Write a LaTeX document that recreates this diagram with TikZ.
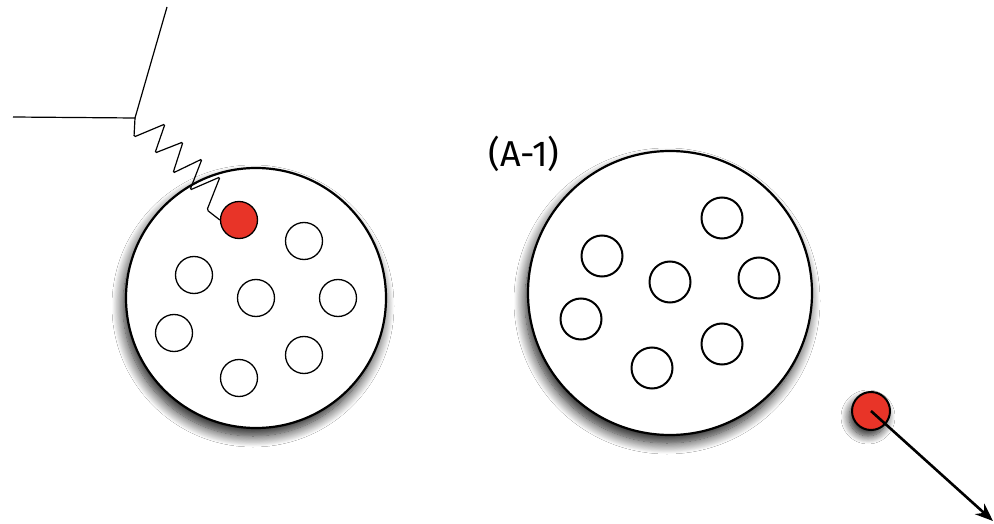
\documentclass[tikz,border=0pt]{standalone}
\usepackage{fontspec}
\setsansfont{Fira Sans}
\usetikzlibrary{shadows.blur,arrows.meta}
\definecolor{nucred}{RGB}{232,52,40}
\tikzset{
  big/.style={circle,draw=black,line width=2.2pt,fill=white,minimum size=#1,inner sep=0pt,
    blur shadow={shadow xshift=-3pt,shadow yshift=-8pt,shadow blur radius=11pt,shadow blur steps=14,shadow opacity=90}},
  small/.style={circle,draw=black,line width=#1,fill=white,minimum size=37pt,inner sep=0pt},
  smallr/.style={circle,draw=black,line width=2pt,fill=white,minimum size=41pt,inner sep=0pt},
  red/.style={circle,draw=black,line width=1.3pt,fill=nucred,minimum size=37pt,inner sep=0pt},
  thin/.style={draw=black,line width=1.2pt},
}
\begin{document}
\begin{tikzpicture}[x=1pt,y=-1pt]
\useasboundingbox[fill=white] (0,0) rectangle (994,524);
% left nucleus
\node[big=260pt] (n1) at (256,298) {};
\node[red] (p1) at (239,220) {};
\node[small=1.3pt] (a1) at (304,241) {};
\node[small=1.3pt] (a2) at (194,275) {};
\node[small=1.3pt] (a3) at (256,298) {};
\node[small=1.3pt] (a4) at (338,298) {};
\node[small=1.3pt] (a5) at (174,333) {};
\node[small=1.3pt] (a6) at (304,355) {};
\node[small=1.3pt] (a7) at (239,378) {};
% incoming line and spring
\coordinate (s) at (13,117);
\coordinate (v) at (135,118);
\coordinate (t) at (167,7);
\draw[thin] (s) -- (v) -- (t);
\draw[thin,rounded corners=1.5pt] (v) -- (134,137) -- (165,124) -- (155,153) -- (183,142)
  -- (173,173) -- (202,159) -- (190,190) -- (220,177) -- (207,210) -- (p1.west);
% right nucleus
\node[font=\sffamily\fontsize{36}{40}\selectfont] (lab) at (524,154) {(A-1)};
\node[big=284pt] (n2) at (670,293) {};
\node[smallr] (b1) at (722,218) {};
\node[smallr] (b2) at (602,256) {};
\node[smallr] (b3) at (670,282) {};
\node[smallr] (b4) at (759,278) {};
\node[smallr] (b5) at (581,319) {};
\node[smallr] (b6) at (722,344) {};
\node[smallr] (b7) at (652,368) {};
% emitted particle
\node[red,line width=2pt,minimum size=38pt,
  blur shadow={shadow xshift=-3pt,shadow yshift=-6pt,shadow blur radius=8pt,shadow blur steps=12,shadow opacity=85}] (p2) at (871,411) {};
\coordinate (e) at (993,521);
\draw[line width=2.6pt,-{Stealth[length=18pt,width=14pt]}] (p2.center) -- (e);
\end{tikzpicture}
\end{document}
